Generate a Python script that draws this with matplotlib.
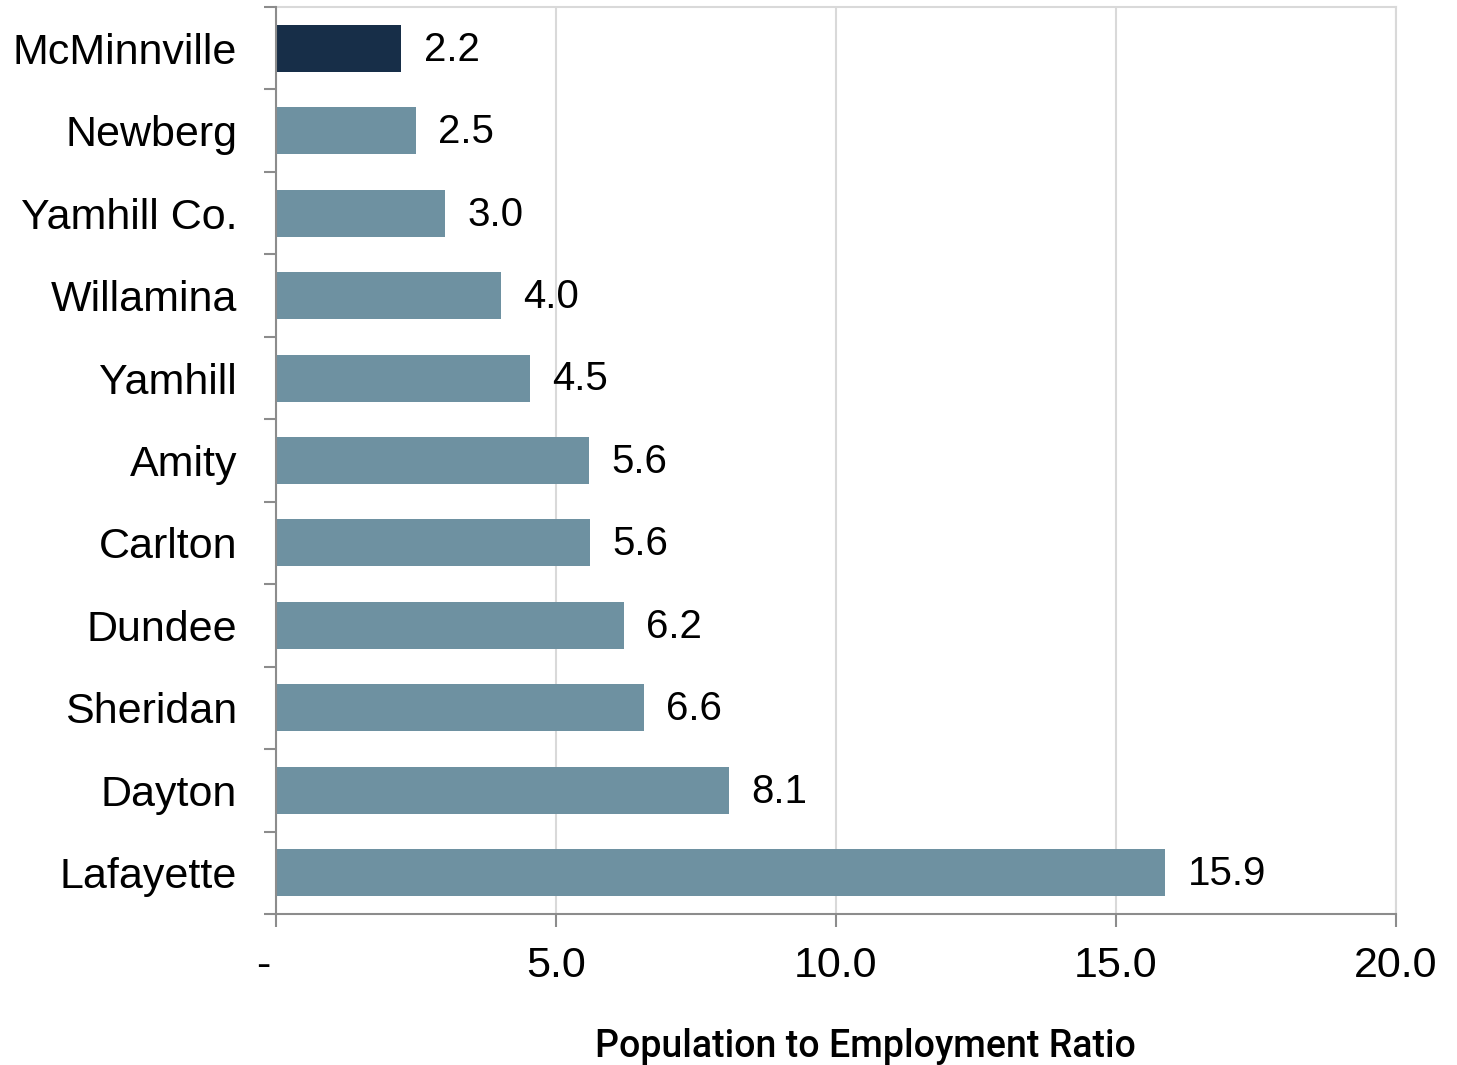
import matplotlib.pyplot as plt
from matplotlib.ticker import FixedLocator

# data
places = ["McMinnville", "Newberg", "Yamhill Co.", "Willamina", "Yamhill", "Amity",
          "Carlton", "Dundee", "Sheridan", "Dayton", "Lafayette"]
ratios = [2.24, 2.5, 3.02, 4.02, 4.54, 5.59, 5.61, 6.21, 6.57, 8.09, 15.88]
x_ticks = [0, 5, 10, 15, 20]
x_tick_labels = ["-  ", "5.0", "10.0", "15.0", "20.0"]

dark = "#172e48"
light = "#6e91a1"
colors = [dark] + [light] * (len(places) - 1)

plt.rcParams['font.family'] = ['Liberation Sans', 'DejaVu Sans']

fig = plt.figure(figsize=(14.57, 10.65), dpi=100)
ax = fig.add_axes([276 / 1457, 151 / 1065, 1120 / 1457, 907 / 1065])

y = list(range(len(places)))
ax.barh(y, ratios, height=0.57, color=colors, zorder=3)

for yi, v in zip(y, ratios):
    ax.annotate(f"{v:.1f}", (v, yi), xytext=(16, -1), textcoords="offset points",
                va="center", ha="left", fontsize=29, color="black")

ax.set_xlim(0, 20)
ax.set_ylim(len(places) - 0.5, -0.5)

ax.set_xticks(x_ticks)
ax.set_xticklabels(x_tick_labels, fontsize=31)
ax.set_yticks(y)
ax.set_yticklabels(places, fontsize=31)
ax.yaxis.set_minor_locator(FixedLocator([i - 0.5 for i in range(len(places) + 1)]))

ax.tick_params(axis="y", which="major", length=0, pad=28)
ax.tick_params(axis="y", which="minor", length=9, width=1.5, color="#8c8c8c")
ax.tick_params(axis="x", which="major", length=9, width=1.5, color="#8c8c8c", pad=14)

ax.grid(axis="x", color="#d9d9d9", linewidth=1.5, zorder=0)
for side in ["top", "right"]:
    ax.spines[side].set_color("#d9d9d9")
    ax.spines[side].set_linewidth(1.5)
for side in ["left", "bottom"]:
    ax.spines[side].set_color("#8c8c8c")
    ax.spines[side].set_linewidth(1.5)
    ax.spines[side].set_zorder(4)

ax.set_xlabel("Population to Employment Ratio", fontsize=27, fontweight="medium",
              family=["Roboto", "Liberation Sans"])
ax.xaxis.set_label_coords(589 / 1120, -114 / 907)

fig.savefig("out.png", dpi=100)
